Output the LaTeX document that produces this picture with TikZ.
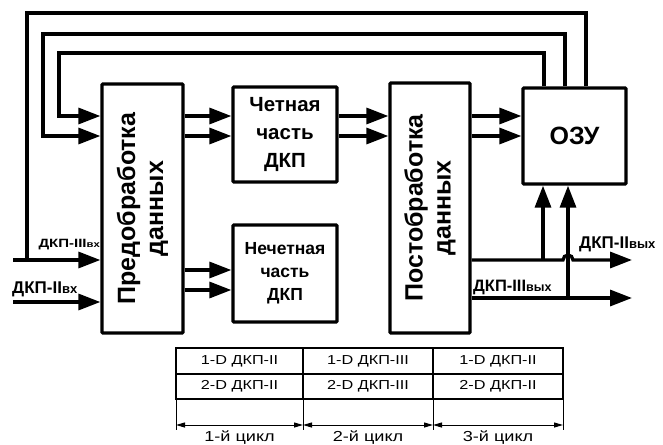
\documentclass[tikz,border=0pt]{standalone}
\usepackage{fontspec}
\setmainfont{Liberation Sans}
\newfontfamily\widefont{Liberation Sans}[FakeStretch=1.25]
\usetikzlibrary{arrows.meta,calc}

% lowered index text, e.g. the "вх" in ДКП-IIвх
\newcommand{\idx}[2]{{\fontsize{#1}{#1}\selectfont #2}}

\begin{document}
\begin{tikzpicture}[x=1pt, y=-1pt,
  blk/.style={draw, line width=3.3pt, rounded corners=1pt, inner sep=0pt, align=center, font=\bfseries},
  wire/.style={line width=3.3pt},
  arr/.style={wire, -{Triangle[length=22pt,width=16pt]}},
  lbl/.style={inner sep=0pt, font=\bfseries},
  cell/.style={draw, line width=1.5pt, inner sep=0pt, outer sep=0pt, font=\widefont\fontsize{13}{13}\selectfont},
  dim/.style={line width=1pt, {Triangle[length=9pt,width=5pt]}-{Triangle[length=9pt,width=5pt]}}]

\useasboundingbox (0,0) rectangle (663,444);

% Blocks
\node[blk, minimum width=81pt, minimum height=249pt] (pre) at (142.5,208.5) {};
\node[rotate=90, font=\bfseries\fontsize{25}{28}\selectfont, align=center] (preT) at (pre) {Предобработка\\данных};

\node[blk, minimum width=104pt, minimum height=95pt, font=\bfseries\fontsize{20.5}{28}\selectfont] (even) at (285,134.5) {Четная\\часть\\ДКП};
\node[blk, minimum width=104pt, minimum height=97pt, font=\bfseries\fontsize{17.5}{23}\selectfont] (odd) at (285,273.5) {Нечетная\\часть\\ДКП};

\node[blk, minimum width=80pt, minimum height=250pt] (post) at (430,208) {};
\node[rotate=90, font=\bfseries\fontsize{25}{28}\selectfont, align=center] (postT) at (post) {Постобработка\\данных};

\node[blk, minimum width=103pt, minimum height=96pt, font=\bfseries\fontsize{25}{25}\selectfont] (ozu) at (574.5,136) {ОЗУ};

% Inputs
\coordinate (inA) at (13,260);
\coordinate (inB) at (13,302);
\draw[arr] (inA) -- (pre.west |- inA);
\draw[arr] (inB) -- (pre.west |- inB);
\node[lbl, anchor=base east, font=\widefont\bfseries\fontsize{12}{12}\selectfont] (inAT) at (100,247) {ДКП-III\idx{9}{вх}};
\node[lbl, anchor=base west, font=\bfseries\fontsize{17}{17}\selectfont] (inBT) at (12,293) {ДКП-II\idx{13}{вх}};

% Feedback from ОЗУ
\draw[wire] (ozu.north -| 586,0) |- (27,13) -- (27,260);
\draw[arr] (ozu.north -| 565,0) |- (43,34) |- (pre.west |- 0,136);
\draw[arr] (ozu.north -| 544,0) |- (59,53) |- (pre.west |- 0,116);

% Data paths
\foreach \y in {116,136} {
  \draw[arr] (pre.east |- 0,\y) -- (even.west |- 0,\y);
  \draw[arr] (even.east |- 0,\y) -- (post.west |- 0,\y);
  \draw[arr] (post.east |- 0,\y) -- (ozu.west |- 0,\y);
}
\foreach \y in {270,290}
  \draw[arr] (pre.east |- 0,\y) -- (odd.west |- 0,\y);

% Outputs
\coordinate (outA) at (632,260);
\coordinate (outB) at (632,298);
\draw[arr] (post.east |- outA) -- (563,260) arc[start angle=180, end angle=360, radius=5] -- (outA);
\draw[arr] (post.east |- outB) -- (outB);
\draw[arr] (543,260) -- (ozu.south -| 543,0);
\draw[arr] (568,298) -- (ozu.south -| 568,0);
\node[lbl, anchor=base west, font=\bfseries\fontsize{17}{17}\selectfont] (outAT) at (579,248) {ДКП-II\idx{13}{вых}};
\node[lbl, anchor=base west, font=\bfseries\fontsize{16.5}{16.5}\selectfont] (outBT) at (473,291) {ДКП-III\idx{12.5}{вых}};

% Cycle table
\node[cell, minimum width=127pt, minimum height=26pt] (c11) at (239.5,361) {1-D ДКП-II};
\node[cell, minimum width=130pt, minimum height=26pt] (c12) at (368,361) {1-D ДКП-III};
\node[cell, minimum width=130pt, minimum height=26pt] (c13) at (498,361) {1-D ДКП-II};
\node[cell, minimum width=127pt, minimum height=25pt] (c21) at (239.5,386.5) {2-D ДКП-II};
\node[cell, minimum width=130pt, minimum height=25pt] (c22) at (368,386.5) {2-D ДКП-III};
\node[cell, minimum width=130pt, minimum height=25pt] (c23) at (498,386.5) {2-D ДКП-II};

% Cycle marks
\foreach \x [count=\i] in {176,303,433,563}
  \draw[line width=1pt] (\x,399) -- (\x,430) coordinate (t\i);
\foreach \a/\b/\txt [count=\i] in {1/2/1-й цикл,2/3/2-й цикл,3/4/3-й цикл} {
  \draw[dim] ([yshift=5pt]t\a) -- ([yshift=5pt]t\b);
  \node[font=\widefont\fontsize{14.5}{14.5}\selectfont, inner sep=0pt] (cyc\i) at ($(t\a)!0.5!(t\b)+(0,7.5)$) {\txt};
}

\end{tikzpicture}
\end{document}
